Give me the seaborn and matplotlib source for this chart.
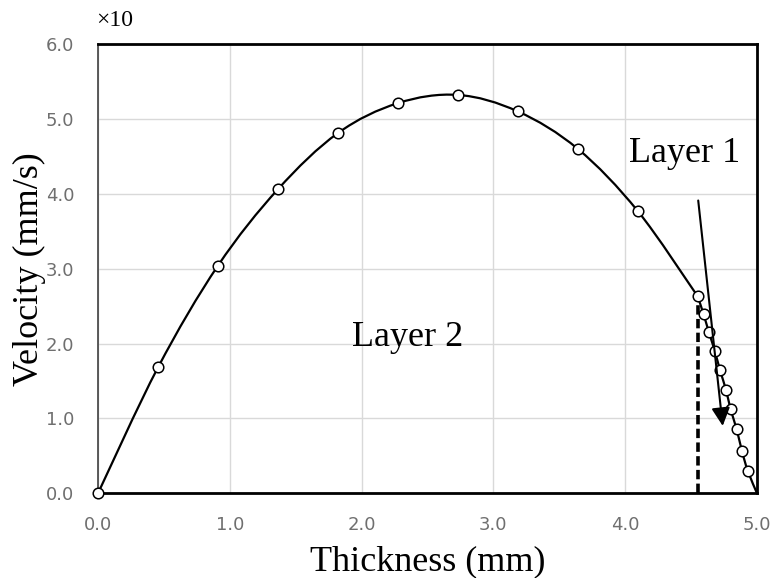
import matplotlib
matplotlib.use("Agg")
import matplotlib.pyplot as plt
from matplotlib.path import Path
from matplotlib.patches import PathPatch
import seaborn as sns
import pandas as pd

# ---- data (velocity in units of 10 mm/s) ----
layer2_thickness = [0.0, 0.455, 0.91, 1.365, 1.82, 2.275, 2.73, 3.185, 3.64, 4.095, 4.55]
layer2_velocity = [0.0, 1.68, 3.04, 4.06, 4.81, 5.21, 5.32, 5.10, 4.60, 3.77, 2.63]
layer1_thickness = [4.55, 4.595, 4.635, 4.68, 4.72, 4.765, 4.80, 4.845, 4.885, 4.93, 5.0]
layer1_velocity = [2.63, 2.39, 2.15, 1.90, 1.64, 1.38, 1.12, 0.86, 0.57, 0.30, 0.0]
interface_thickness = 4.554
x_ticks = [0.0, 1.0, 2.0, 3.0, 4.0, 5.0]
y_ticks = [0.0, 1.0, 2.0, 3.0, 4.0, 5.0, 6.0]
x_tick_labels = ["0.0", "1.0", "2.0", "3.0", "4.0", "5.0"]
y_tick_labels = ["0.0", "1.0", "2.0", "3.0", "4.0", "5.0", "6.0"]

sns.set_theme(style="white")
plt.rcParams["font.family"] = ["DejaVu Sans"]
plt.rcParams["text.color"] = "black"
plt.rcParams["axes.labelcolor"] = "black"


def smooth_path(xs, ys):
    """Smoothed (Excel-style) line through the data points as cubic Bezier segments."""
    pts = list(zip(xs, ys))
    n = len(pts)
    verts = [pts[0]]
    codes = [Path.MOVETO]
    for i in range(n - 1):
        p0 = pts[i - 1] if i > 0 else pts[i]
        p1 = pts[i]
        p2 = pts[i + 1]
        p3 = pts[i + 2] if i + 2 < n else pts[i + 1]
        c1 = (p1[0] + (p2[0] - p0[0]) / 6, p1[1] + (p2[1] - p0[1]) / 6)
        c2 = (p2[0] - (p3[0] - p1[0]) / 6, p2[1] - (p3[1] - p1[1]) / 6)
        verts += [c1, c2, p2]
        codes += [Path.CURVE4] * 3
    return Path(verts, codes)


df2 = pd.DataFrame({"Thickness": layer2_thickness, "Velocity": layer2_velocity})
df1 = pd.DataFrame({"Thickness": layer1_thickness, "Velocity": layer1_velocity})
df_marks = pd.concat([df2, df1.iloc[1:-1]], ignore_index=True)

fig = plt.figure(figsize=(7.71, 5.78), dpi=100)
ax = fig.add_axes([98 / 771, 1 - 493.3 / 578, 659 / 771, 449.3 / 578])

ax.set_xlim(0, 5.0)
ax.set_ylim(0, 6.0)
ax.set_xticks(x_ticks)
ax.set_yticks(y_ticks)
ax.set_xticklabels(x_tick_labels)
ax.set_yticklabels(y_tick_labels)
ax.grid(True, color="#d9d9d9", linewidth=1.0)
ax.set_axisbelow(True)

for d in (df2, df1):
    patch = PathPatch(smooth_path(d["Thickness"], d["Velocity"]), facecolor="none",
                      edgecolor="black", linewidth=1.6, transform=ax.transData, zorder=3)
    ax.add_patch(patch)

sns.scatterplot(data=df_marks, x="Thickness", y="Velocity", marker="o", s=58,
                facecolor="white", edgecolor="black", linewidth=1.1, ax=ax,
                zorder=4, clip_on=False)

# interface dashed line
ax.plot([interface_thickness, interface_thickness], [0, layer2_velocity[-1]],
        color="black", linewidth=2.6, linestyle=(0, (2.6, 1.2)), zorder=2)

# arrow
ax.annotate("", xy=(4.74, 0.90), xytext=(4.554, 3.91),
            arrowprops=dict(arrowstyle="-|>,head_length=0.55,head_width=0.28",
                            color="black", lw=1.5, mutation_scale=20,
                            shrinkA=0, shrinkB=0), zorder=5)

serif = ["Liberation Serif", "DejaVu Serif"]
ax.text(4.452, 4.42, "Layer 1", fontsize=26, family=serif, ha="center",
        va="baseline", color="black")
ax.text(2.35, 1.97, "Layer 2", fontsize=26, family=serif, ha="center",
        va="baseline", color="black")

ax.set_xlabel("Thickness (mm)", fontsize=26, family=serif, color="black")
ax.set_ylabel("Velocity (mm/s)", fontsize=26, family=serif, color="black")
ax.xaxis.set_label_coords(0.5, -0.115)
ax.yaxis.set_label_coords(-0.079, 0.5)

ax.tick_params(axis="both", length=0, labelsize=13, labelcolor="#6f6f6f")
ax.tick_params(axis="y", pad=17)
ax.tick_params(axis="x", pad=16)

for side in ["top", "right", "bottom"]:
    ax.spines[side].set_color("black")
    ax.spines[side].set_linewidth(2.0)
    ax.spines[side].set_visible(True)
ax.spines["left"].set_color("#404040")
ax.spines["left"].set_linewidth(1.2)
ax.spines["left"].set_visible(True)

fig.text(96 / 771, 1 - 26 / 578, "×10", fontsize=17, family=serif,
         ha="left", va="baseline", color="black")

fig.savefig("out.png", dpi=100)
